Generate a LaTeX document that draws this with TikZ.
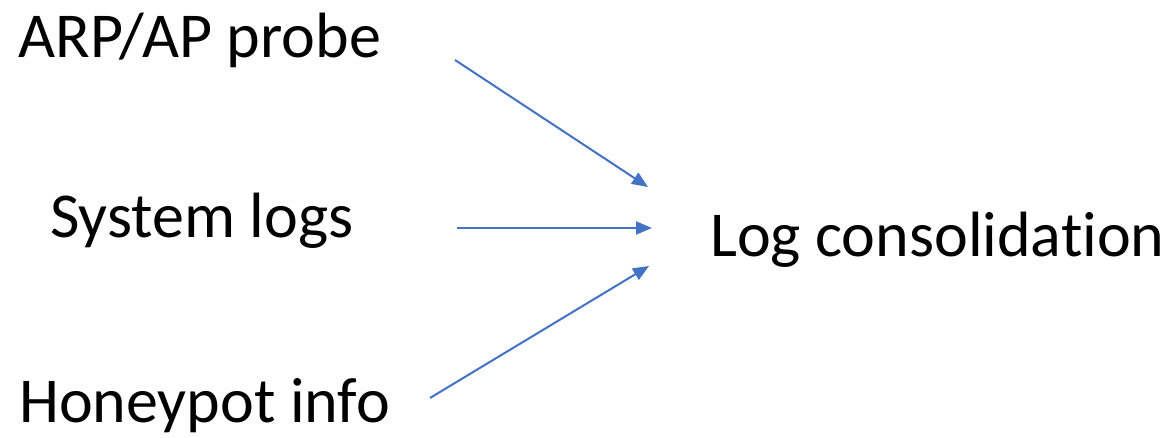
\documentclass[tikz,border=0pt]{standalone}
\usepackage{fontspec}
\setmainfont[Ligatures=NoCommon]{Carlito}
\usetikzlibrary{arrows.meta}
\definecolor{arrowblue}{HTML}{4472C4}
\begin{document}
\begin{tikzpicture}[x=1pt,y=-1pt,
  lbl/.style={anchor=base west,inner sep=0pt,font=\fontsize{64}{72}\selectfont},
  flow/.style={draw=arrowblue,line width=2pt,-{Triangle[length=16pt,width=13pt]}}]
\useasboundingbox[fill=white] (0,0) rectangle (1166,438);
\node[lbl] (arp) at (18,58) {ARP/AP probe};
\node[lbl] (sys) at (50,237) {System logs};
\node[lbl] (log) at (710,257) {Log consolidation};
\node[lbl] (hon) at (19,422) {Honeypot info};
\coordinate (a1s) at (455,60);
\coordinate (a1e) at (648,187);
\coordinate (a2s) at (457,228);
\coordinate (a2e) at (652,228);
\coordinate (a3s) at (430,398);
\coordinate (a3e) at (649,266);
\draw[flow] (a1s) -- (a1e);
\draw[flow] (a2s) -- (a2e);
\draw[flow] (a3s) -- (a3e);
\end{tikzpicture}
\end{document}
